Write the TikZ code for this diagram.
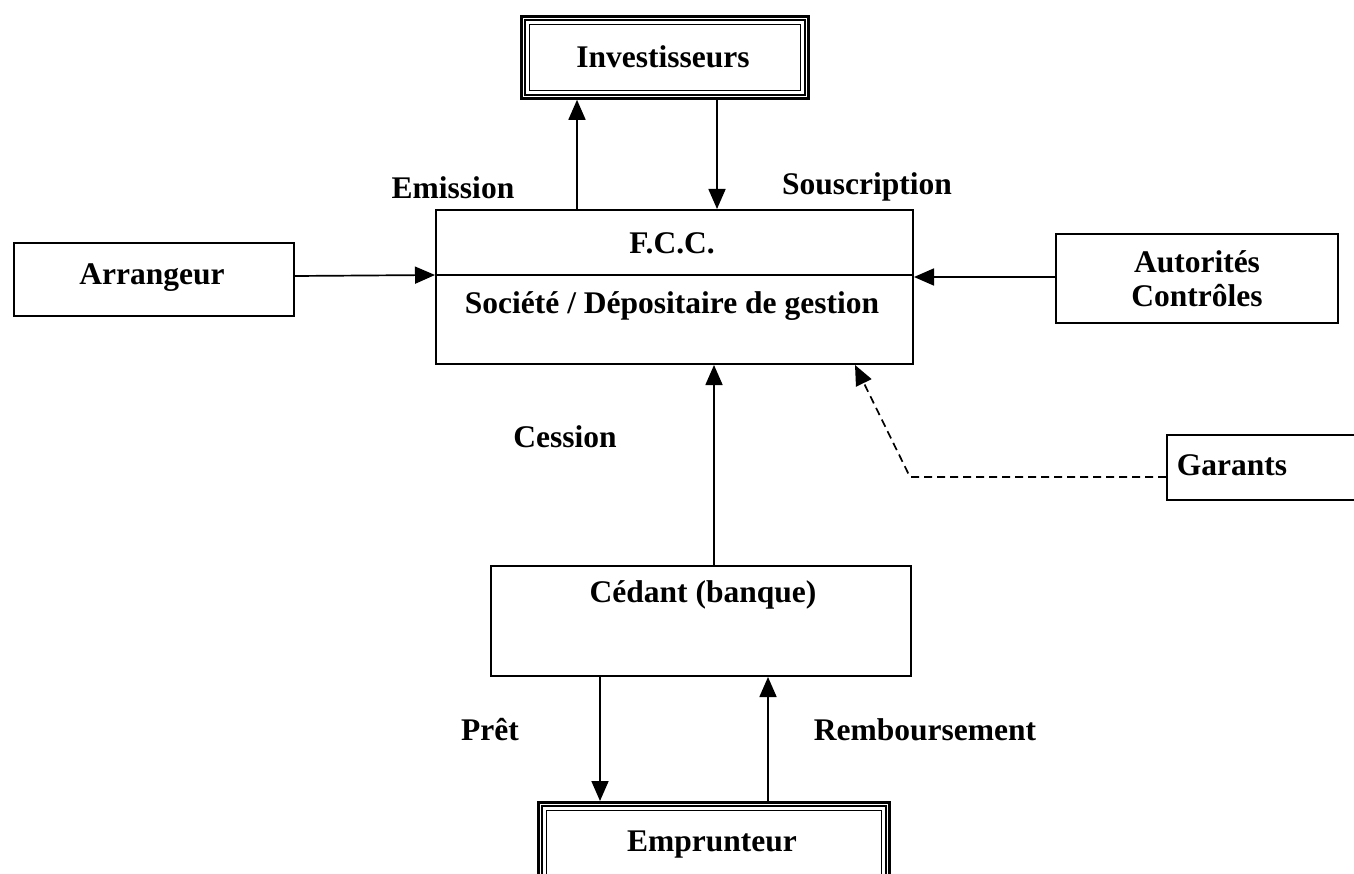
\documentclass[tikz,border=0pt]{standalone}
\usepackage{fontspec}
\setmainfont{Liberation Serif}
\usetikzlibrary{arrows.meta}
\begin{document}
\begin{tikzpicture}[x=1pt,y=-1pt,
  font=\fontsize{31.5}{36}\selectfont\bfseries,
  box/.style={draw,line width=2pt,rectangle,inner sep=0pt,anchor=north west},
  lbl/.style={inner sep=0pt},
  arr/.style={line width=1.7pt,-{Triangle[length=20pt,width=17pt]}},
  dsh/.style={line width=1.7pt,dash pattern=on 8pt off 5pt,-{Triangle[length=20pt,width=17pt]}}
]
\useasboundingbox (0,0) rectangle (1354,874);
\clip (0,0) rectangle (1354,874);

% framed boxes (three nested outlines)
\node[box,line width=2.8pt,minimum width=287pt,minimum height=82pt] (inv) at (520,15) {};
\draw[line width=2.2pt] ([xshift=5pt,yshift=-5pt]inv.north west) rectangle ([xshift=-5pt,yshift=5pt]inv.south east);
\draw[line width=1.1pt] ([xshift=9.5pt,yshift=-9.5pt]inv.north west) rectangle ([xshift=-9.5pt,yshift=9.5pt]inv.south east);
\node[lbl] (invt) at (663,57) {Investisseurs};

\node[box,line width=2.8pt,minimum width=351pt,minimum height=80pt] (emp) at (537,801) {};
\draw[line width=2.2pt] ([xshift=5pt,yshift=-5pt]emp.north west) rectangle ([xshift=-5pt,yshift=5pt]emp.south east);
\draw[line width=1.1pt] ([xshift=9.5pt,yshift=-9.5pt]emp.north west) rectangle ([xshift=-9.5pt,yshift=9.5pt]emp.south east);
\node[lbl] (empt) at (712,845) {Emprunteur};

% plain boxes
\node[box,minimum width=477pt,minimum height=154pt] (fcc) at (435,209) {};
\draw[line width=1.8pt] (fcc.west |- 0,275) coordinate (fccl) -- (fcc.east |- 0,275) coordinate (fccr);
\node[lbl] (fcct) at (672,243) {F.C.C.};
\node[lbl] (fccb) at (672,306) {Société / Dépositaire de gestion};

\node[box,minimum width=280pt,minimum height=73pt] (arrg) at (13,242) {};
\node[lbl] (arrgt) at (152,278) {Arrangeur};

\node[box,minimum width=282pt,minimum height=89pt] (aut) at (1055,233) {};
\node[lbl,align=center] (autt) at (1197,279) {Autorités\\[-2pt]Contrôles};

\node[box,minimum width=240pt,minimum height=65pt] (gar) at (1166,434) {};
\node[lbl] (gart) at (1232,465) {Garants};

\node[box,minimum width=420pt,minimum height=110pt] (ced) at (490,565) {};
\node[lbl] (cedt) at (703,595) {Cédant (banque)};

% connectors
\draw[arr] (fcc.north -| 577,0) -- (inv.south -| 577,0);
\draw[arr] (inv.south -| 717,0) -- (fcc.north -| 717,0);
\draw[arr] (arrg.east |- 0,276) -- (fccl);
\draw[arr] (aut.west |- 0,277) -- (fcc.east |- 0,277);
\draw[arr] (ced.north -| 714,0) -- (fcc.south -| 714,0);
\coordinate (bend) at (910,477);
\draw[dsh] (gar.west |- bend) -- (bend) -- (fcc.south -| 855,0);
\draw[arr] (ced.south -| 600,0) -- (emp.north -| 600,0);
\draw[arr] (emp.north -| 768,0) -- (ced.south -| 768,0);

% flow labels
\node[lbl] (lemi) at (453,188) {Emission};
\node[lbl] (lsou) at (867,187) {Souscription};
\node[lbl] (lces) at (565,437) {Cession};
\node[lbl] (lpre) at (490,730) {Prêt};
\node[lbl] (lrem) at (925,730) {Remboursement};
\end{tikzpicture}
\end{document}
